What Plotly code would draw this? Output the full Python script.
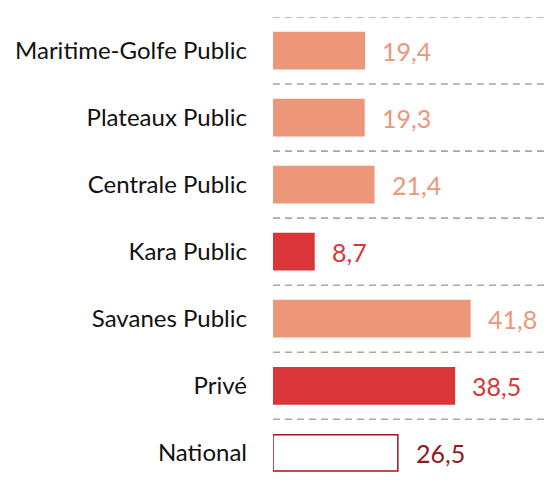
import plotly.graph_objects as go

categories = ["Maritime-Golfe Public", "Plateaux Public", "Centrale Public", "Kara Public",
              "Savanes Public", "Privé", "National"]
values = [19.4, 19.3, 21.4, 8.7, 41.8, 38.5, 26.5]
fill_colors = ["#EC967A", "#EC967A", "#EC967A", "#DA3538", "#EC967A", "#DA3538", "#FFFFFF"]
line_colors = ["#EC967A", "#EC967A", "#EC967A", "#DA3538", "#EC967A", "#DA3538", "#951B1E"]
text_colors = ["#EC967A", "#EC967A", "#EC967A", "#DA3538", "#EC967A", "#DA3538", "#8E1A1D"]
labels = [f"{v:.1f}".replace(".", ",") for v in values]

fig = go.Figure()
fig.add_trace(go.Bar(
    y=categories, x=values, orientation="h",
    marker=dict(color=fill_colors, line=dict(color=line_colors, width=1.5)),
    width=0.54, hoverinfo="skip",
))

for i, (c, v, t, tc) in enumerate(zip(categories, values, labels, text_colors)):
    fig.add_annotation(x=v, y=c, text=t, showarrow=False, xanchor="left", xshift=16,
                       font=dict(size=25, color=tc, family="Lato"))

for i in range(len(categories)):
    fig.add_shape(type="line", xref="paper", x0=0, x1=1, yref="y", y0=i - 0.5, y1=i - 0.5,
                  line=dict(color="#A8A8A8", width=1.6, dash="7px,5px"), layer="below")

fig.update_layout(
    width=544, height=475,
    margin=dict(l=265, r=2, t=9, b=0),
    plot_bgcolor="white", paper_bgcolor="white",
    showlegend=False,
    font=dict(family="Lato", size=24, color="#111111"),
    xaxis=dict(range=[0, 58.8], visible=False),
    yaxis=dict(range=[6.45, -0.5], showgrid=False, zeroline=False, ticks="",
               ticklabelstandoff=25, tickfont=dict(size=24, color="#111111", family="Lato")),
)

fig.write_html("out.html")
